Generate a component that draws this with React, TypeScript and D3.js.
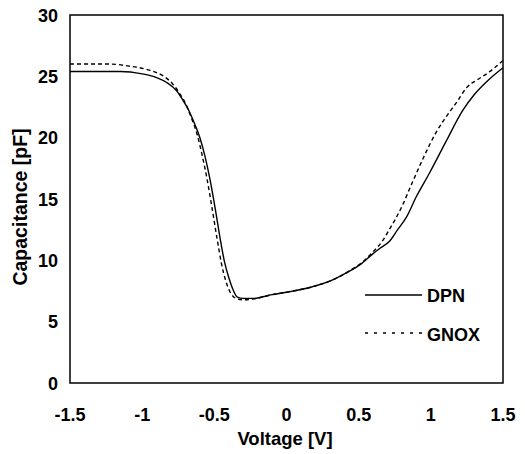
import React from "react";
import * as d3 from "d3";

const dpnV = [-1.5, -1.3, -1.15, -1.0, -0.9, -0.83, -0.76, -0.72, -0.68, -0.646, -0.6, -0.565, -0.53, -0.495, -0.46, -0.43, -0.4, -0.37, -0.34, -0.3, -0.23, -0.1, 0.0, 0.18, 0.3, 0.37, 0.45, 0.51, 0.6, 0.65, 0.717, 0.77, 0.83, 0.9, 0.99, 1.11, 1.22, 1.3, 1.39, 1.5];
const dpnC = [25.4, 25.4, 25.4, 25.2, 24.9, 24.5, 23.8, 23.1, 22.3, 21.4, 20.0, 18.5, 16.6, 14.3, 11.8, 9.9, 8.6, 7.6, 7.0, 6.9, 6.9, 7.2, 7.4, 7.85, 8.3, 8.7, 9.2, 9.65, 10.55, 11.0, 11.6, 12.5, 13.5, 15.2, 17.1, 19.8, 22.2, 23.5, 24.6, 25.7];

const gnoxV = [-1.5, -1.22, -1.1, -0.95, -0.85, -0.79, -0.74, -0.7, -0.665, -0.62, -0.585, -0.55, -0.515, -0.48, -0.45, -0.42, -0.39, -0.35, -0.3, -0.23, -0.1, 0.0, 0.18, 0.3, 0.37, 0.45, 0.52, 0.6, 0.66, 0.717, 0.8, 0.87, 0.95, 1.04, 1.1, 1.18, 1.25, 1.32, 1.41, 1.5];
const gnoxC = [26.0, 26.0, 25.85, 25.5, 25.0, 24.4, 23.6, 22.8, 21.8, 20.3, 18.6, 16.6, 14.2, 11.7, 9.7, 8.3, 7.4, 6.9, 6.78, 6.85, 7.2, 7.4, 7.85, 8.3, 8.7, 9.25, 9.8, 10.7, 11.5, 12.6, 14.4, 16.3, 18.4, 20.5, 21.6, 22.9, 24.1, 24.7, 25.4, 26.3];

const xTicks = [-1.5, -1, -0.5, 0, 0.5, 1, 1.5];
const xTickLabels = ["-1.5", "-1", "-0.5", "0", "0.5", "1", "1.5"];
const yTicks = [0, 5, 10, 15, 20, 25, 30];
const yTickLabels = ["0", "5", "10", "15", "20", "25", "30"];
const seriesNames = ["DPN", "GNOX"];

export default function App() {
  const W = 525, H = 454;
  const left = 70, right = 503, top = 15, bottom = 383;
  const x = d3.scaleLinear().domain([-1.5, 1.5]).range([left, right]);
  const y = d3.scaleLinear().domain([0, 30]).range([bottom, top]);
  const line = d3
    .line<[number, number]>()
    .x((d) => x(d[0]))
    .y((d) => y(d[1]))
    .curve(d3.curveMonotoneX);
  const dpn = dpnV.map((v, i) => [v, dpnC[i]] as [number, number]);
  const gnox = gnoxV.map((v, i) => [v, gnoxC[i]] as [number, number]);
  const font = "'Liberation Sans', Arial, sans-serif";

  return (
    <svg width={W} height={H} style={{ position: "absolute", left: 0, top: 0, background: "#fff" }} fontFamily={font}>
      <rect x={0} y={0} width={W} height={H} fill="#fff" />
      <path d={line(gnox) || ""} fill="none" stroke="#000" strokeWidth={1.4} strokeDasharray="4,3" />
      <path d={line(dpn) || ""} fill="none" stroke="#000" strokeWidth={1.4} />
      <rect x={left} y={top} width={right - left} height={bottom - top} fill="none" stroke="#000" strokeWidth={1.5} />
      {xTicks.map((t, i) => (
        <text key={"x" + i} x={x(t)} y={421} textAnchor="middle" fontSize={18} fontWeight="bold">
          {xTickLabels[i]}
        </text>
      ))}
      {yTicks.map((t, i) => (
        <text key={"y" + i} x={58} y={y(t) + 6.5} textAnchor="end" fontSize={18} fontWeight="bold">
          {yTickLabels[i]}
        </text>
      ))}
      <text x={285} y={445} textAnchor="middle" fontSize={18.5} fontWeight="bold">
        Voltage [V]
      </text>
      <text transform={`translate(27,207) rotate(-90)`} textAnchor="middle" fontSize={19.5} fontWeight="bold">
        Capacitance [pF]
      </text>
      <line x1={365} x2={422} y1={295} y2={295} stroke="#000" strokeWidth={1.4} />
      <text x={427} y={301.5} fontSize={18} fontWeight="bold">{seriesNames[0]}</text>
      <line x1={365} x2={422} y1={333} y2={333} stroke="#000" strokeWidth={1.4} strokeDasharray="3,6" />
      <text x={427} y={340.5} fontSize={18} fontWeight="bold">{seriesNames[1]}</text>
    </svg>
  );
}
